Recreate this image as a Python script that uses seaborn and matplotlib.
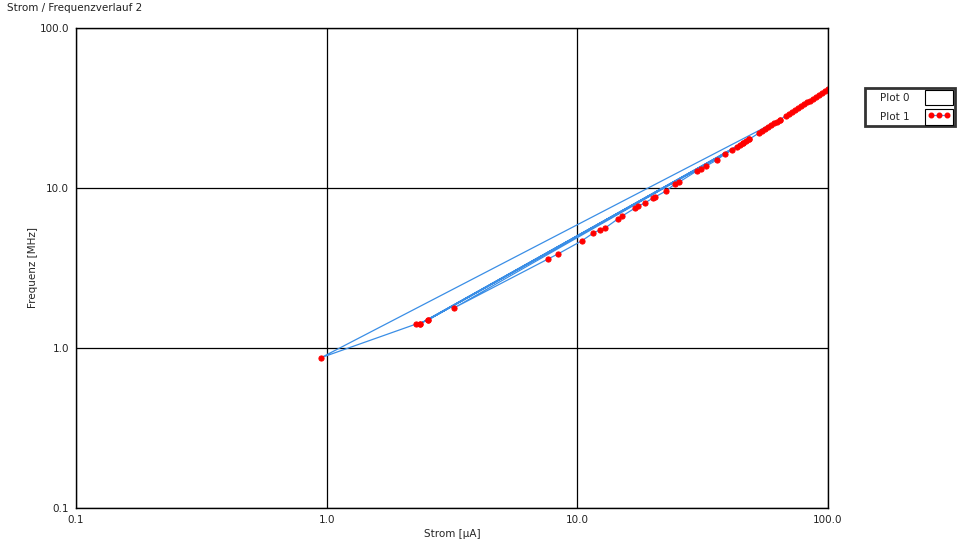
import numpy as np
import pandas as pd
import seaborn as sns
import matplotlib
matplotlib.use("Agg")
import matplotlib.pyplot as plt
import matplotlib.ticker as ticker
from matplotlib.patches import Patch
from matplotlib.lines import Line2D
from matplotlib.legend_handler import HandlerTuple, HandlerLine2D

# Strom [uA] / Frequenz [MHz] in acquisition order (Plot 1)
strom = [64.34, 0.95, 2.27, 2.36, 2.54, 48.40, 2.36, 45.81, 3.22,
         7.64, 8.37, 10.4, 11.6, 12.3, 12.9, 14.5, 15.1, 17.0, 17.5,
         18.6, 20.0, 20.4, 22.6, 24.5, 25.5, 30.0, 31.2, 32.6, 36.1,
         38.8, 41.4, 43.35, 2.54, 44.56, 45.81, 47.09, 48.40,
         53.05, 54.54, 56.06, 57.63, 59.24, 60.88, 62.59, 64.34,
         67.98, 69.89, 71.83, 73.85, 75.91, 78.03, 80.21, 82.45,
         84.75, 87.12, 89.55, 92.05, 94.63, 97.27, 100.0]
frequenz = [26.76, 0.87, 1.41, 1.42, 1.50, 20.14, 1.42, 19.06, 1.78,
            3.60, 3.87, 4.67, 5.24, 5.47, 5.62, 6.40, 6.68, 7.50, 7.72,
            8.06, 8.66, 8.79, 9.58, 10.6, 10.9, 12.8, 13.1, 13.7, 15.0,
            16.3, 17.3, 18.04, 1.50, 18.54, 19.06, 19.60, 20.14,
            22.07, 22.69, 23.32, 23.97, 24.64, 25.32, 26.03, 26.76,
            28.27, 29.06, 29.86, 30.70, 31.55, 32.43, 33.34, 34.27,
            35.22, 36.21, 37.21, 38.25, 39.31, 40.40, 41.53]

tick_vals = [0.1, 1.0, 10.0, 100.0]
tick_labels = ["0.1", "1.0", "10.0", "100.0"]

df = pd.DataFrame({"strom": strom, "frequenz": frequenz})

sns.set_style("white")
plt.rcParams["font.family"] = ["DejaVu Sans"]
plt.rcParams["font.size"] = 7.5

fig = plt.figure(figsize=(9.69, 5.49), dpi=100)
ax = fig.add_axes([76 / 969, 41 / 549, 752 / 969, 480 / 549])

line_blue = "#3a8ee6"
sns.lineplot(data=df, x="strom", y="frequenz", sort=False, estimator=None,
             color=line_blue, linewidth=0.9, marker="o", markersize=3.7,
             markerfacecolor="#ff0000", markeredgecolor="#ff0000", ax=ax)

ax.set_xscale("log")
ax.set_yscale("log")
ax.set_xlim(0.1, 100)
ax.set_ylim(0.1, 100)
ax.set_xticks(tick_vals)
ax.set_xticklabels(tick_labels)
ax.set_yticks(tick_vals)
ax.set_yticklabels(tick_labels)
ax.xaxis.set_minor_locator(ticker.NullLocator())
ax.yaxis.set_minor_locator(ticker.NullLocator())
ax.grid(True, color="black", linewidth=0.9)
ax.set_axisbelow(True)
for s in ax.spines.values():
    s.set_color("black")
    s.set_linewidth(1.0)
ax.tick_params(axis="both", direction="out", length=4, width=0.8,
               colors="black", labelcolor="#222222", labelsize=7.5, pad=1)

ax.set_xlabel("Strom [µA]", fontsize=7.5, labelpad=3)
ax.set_ylabel("Frequenz [MHz]", fontsize=7.5, labelpad=1)
fig.text(7 / 969, 1 - 8 / 549, "Strom / Frequenzverlauf 2", fontsize=7.5,
         ha="left", va="center", color="#222222")

# legend
h0 = Patch(facecolor="white", edgecolor="black", linewidth=0.8)
h1 = (Patch(facecolor="white", edgecolor="black", linewidth=0.8),
      Line2D([], [], color=line_blue, linewidth=0.8, marker="o", markersize=3.3,
             markerfacecolor="#ff0000", markeredgecolor="#ff0000"))
leg = fig.legend([h0, h1], ["    Plot 0", "    Plot 1"],
                 handler_map={tuple: HandlerTuple(ndivide=1),
                              Line2D: HandlerLine2D(marker_pad=0.6)},
                 loc="upper left", bbox_to_anchor=(863 / 969, 1 - 86 / 549),
                 frameon=True, fancybox=False, markerfirst=False, numpoints=3,
                 handlelength=2.7, handleheight=1.9, labelspacing=0.4,
                 borderpad=0.15, handletextpad=1.5, borderaxespad=0.2,
                 fontsize=7.5)
leg.get_frame().set_edgecolor("black")
leg.get_frame().set_linewidth(2)

fig.savefig("out.png", dpi=100)
